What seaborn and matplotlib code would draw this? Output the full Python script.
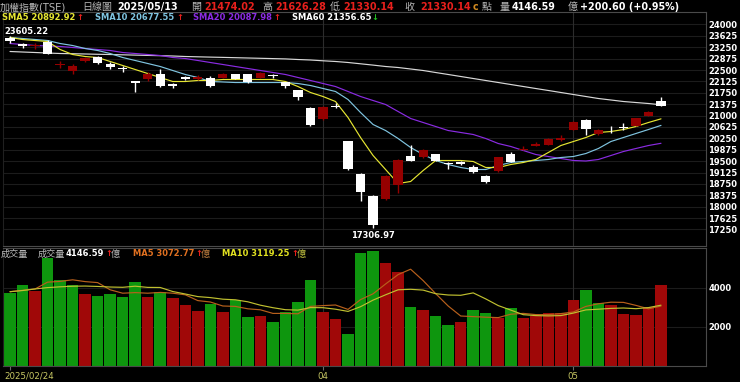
import numpy as np
import pandas as pd
import matplotlib
matplotlib.use("Agg")
import matplotlib.pyplot as plt
import matplotlib.transforms as mtransforms
import seaborn as sns

# ---------------- data ----------------
opens = [23540, 23360, 23280, 23430, 22670, 22462, 22791, 22923, 22706, 22570,
         22133, 22189, 22377, 22030, 22260, 22189, 22245, 22245, 22364, 22354,
         22245, 22321, 22100, 21837, 21257, 20872, 21330, 20157, 19061, 18346,
         18260, 18731, 19686, 19643, 19742, 19440, 19460, 19314, 19004, 19169,
         19752, 19861, 19993, 20038, 20190, 20542, 20839, 20378, 20575, 20610,
         20674, 21003, 21474.02]
highs = [23605.22, 23380, 23400, 23483, 22782, 22706, 22923, 22979, 22772, 22627,
         22133, 22429, 22541, 22080, 22320, 22330, 22288, 22403, 22386, 22386,
         22420, 22386, 22107, 21843, 21283, 21310, 21399, 20180, 19094, 18392,
         19028, 19555, 20048, 19884, 19752, 19466, 19521, 19357, 19028, 19653,
         19800, 20015, 20124, 20246, 20345, 20806, 20895, 20559, 20674, 20740,
         20921, 21168, 21626.28]
lows = [23380, 23210, 23180, 23030, 22584, 22354, 22772, 22700, 22541, 22440,
        21771, 22133, 21958, 21893, 22170, 22166, 21950, 22238, 22205, 22090,
        22238, 22245, 21916, 21530, 20674, 20855, 21234, 19225, 18204, 17306.97,
        18237, 18435, 19505, 19620, 19490, 19258, 19357, 19126, 18797, 19159,
        19466, 19861, 19993, 20032, 20180, 20526, 20345, 20361, 20434, 20520,
        20658, 20987, 21330.14]
closes = [23470, 23280, 23320, 23045, 22710, 22627, 22903, 22716, 22594, 22540,
          22067, 22377, 21968, 21990, 22200, 22278, 21968, 22386, 22212, 22100,
          22410, 22288, 21968, 21606, 20707, 21277, 21298, 19248, 18478, 17404,
          19004, 19531, 19521, 19861, 19498, 19410, 19420, 19136, 18820, 19643,
          19479, 19907, 20071, 20236, 20269, 20796, 20560, 20530, 20545, 20580,
          20905, 21129.54, 21330.14]
prev_close = 23730

volumes = [3744, 4154, 3846, 5538, 4410, 4154, 3692, 3590, 3692, 3538,
           4308, 3538, 3795, 3487, 3128, 2821, 3179, 2769, 3385, 2513,
           2564, 2256, 2769, 3282, 4410, 2769, 2410, 1641, 5795, 5897,
           5282, 4821, 3026, 2872, 2564, 2103, 2256, 2872, 2718, 2462,
           2974, 2462, 2564, 2718, 2718, 3385, 3897, 3231, 3128, 2667,
           2615, 3026, 4146.59]

sma5 = [23572, 23506, 23473, 23440, 23177, 23012, 22946, 22913, 22782, 22650,
        22518, 22386, 22255, 22123, 22123, 22156, 22156, 22189, 22189, 22189,
        22189, 22189, 22123, 21958, 21761, 21629, 21464, 20937, 20279, 19686,
        19225, 18764, 18830, 19192, 19521, 19521, 19521, 19489, 19291, 19291,
        19390, 19456, 19555, 19785, 20015, 20147, 20279, 20444, 20476, 20542,
        20641, 20773, 20892.92]
sma10 = [23572, 23539, 23506, 23473, 23374, 23308, 23210, 23144, 23045, 22913,
         22815, 22716, 22617, 22485, 22354, 22255, 22123, 22107, 22090, 22090,
         22090, 22090, 22090, 22057, 21991, 21893, 21794, 21530, 21102, 20707,
         20509, 20246, 19950, 19719, 19522, 19390, 19291, 19225, 19225, 19357,
         19456, 19489, 19522, 19555, 19620, 19653, 19752, 19917, 20147, 20279,
         20411, 20542, 20677.55]
sma20 = [23374, 23341, 23308, 23292, 23276, 23243, 23210, 23177, 23144, 23078,
         23045, 23012, 22979, 22913, 22880, 22815, 22749, 22683, 22617, 22551,
         22485, 22420, 22354, 22255, 22156, 22057, 21958, 21794, 21629, 21497,
         21366, 21135, 20905, 20773, 20641, 20509, 20444, 20378, 20246, 20081,
         19983, 19851, 19719, 19653, 19588, 19522, 19505, 19555, 19686, 19818,
         19917, 20015, 20087.98]
sma60 = [23111, 23094, 23078, 23061, 23045, 23038, 23029, 23019, 23012, 23002,
         22992, 22982, 22973, 22963, 22946, 22936, 22926, 22917, 22907, 22897,
         22887, 22877, 22867, 22847, 22831, 22805, 22782, 22749, 22706, 22663,
         22617, 22584, 22535, 22485, 22419, 22354, 22288, 22222, 22156, 22090,
         22024, 21958, 21892, 21827, 21761, 21695, 21629, 21563, 21514, 21464,
         21431, 21398, 21356.65]

vol_ma5 = [3810, 3880, 3950, 4300, 4338, 4420, 4328, 4277, 3908, 3733,
           3764, 3733, 3774, 3733, 3651, 3354, 3282, 3077, 3056, 2933,
           2882, 2697, 2697, 2677, 3056, 3097, 3128, 2902, 3405, 3702,
           4205, 4687, 4964, 4380, 3713, 3077, 2564, 2533, 2503, 2482,
           2656, 2698, 2636, 2636, 2687, 2769, 3056, 3190, 3272, 3262,
           3108, 2933, 3072.77]
vol_ma10 = [3810, 3870, 3950, 4020, 4060, 4090, 4100, 4080, 4050, 4036,
            4092, 4031, 4026, 3820, 3692, 3559, 3508, 3426, 3395, 3292,
            3118, 2990, 2887, 2867, 2995, 2990, 2913, 2800, 3041, 3379,
            3651, 3908, 3933, 3892, 3708, 3641, 3626, 3749, 3441, 3098,
            2867, 2631, 2585, 2569, 2585, 2713, 2877, 2913, 2954, 2974,
            2939, 2995, 3119.25]

price_ticks = [17250, 17625, 18000, 18375, 18750, 19125, 19500, 19875, 20250,
               20625, 21000, 21375, 21750, 22125, 22500, 22875, 23250, 23625, 24000]
vol_ticks = [2000, 4000]
x_tick_pos = [0, 25, 45]
x_tick_labels = ["2025/02/24", "04", "05"]
last_date = "2025/05/13"

# ---------------- style ----------------
sns.set_theme(style="dark", rc={
    "figure.facecolor": "black", "axes.facecolor": "black",
    "savefig.facecolor": "black", "axes.edgecolor": "#4a4a4a",
    "grid.color": "#1e1e1e", "text.color": "white",
})
plt.rcParams["font.family"] = ["DejaVu Sans", "Noto Sans CJK TC"]

W, H = 740, 382
fig = plt.figure(figsize=(W / 100, H / 100), dpi=100)


def fx(px):
    return px / W


def fy(py):
    return 1 - py / H


L, R = 3, 706
ax = fig.add_axes([fx(L), fy(246), fx(R) - fx(L), fy(12) - fy(246)])
axv = fig.add_axes([fx(L), fy(366), fx(R) - fx(L), fy(248) - fy(366)], sharex=ax)

df = pd.DataFrame({"x": np.arange(len(closes)), "open": opens, "high": highs,
                   "low": lows, "close": closes, "vol": volumes,
                   "sma5": sma5, "sma10": sma10, "sma20": sma20, "sma60": sma60,
                   "vma5": vol_ma5, "vma10": vol_ma10})
x = df["x"].values
o = df["open"].values
c = df["close"].values

RED = "#950000"
WHITE = "#ffffff"
candle_col = [RED if cc > oo else WHITE for oo, cc in zip(o, c)]
prevs = np.concatenate([[prev_close], c[:-1]])
VRED, VGREEN = "#a00808", "#0e960e"
vol_col = [VRED if cc >= pp else VGREEN for cc, pp in zip(c, prevs)]

# grid lines
for t in price_ticks:
    ax.axhline(t, color="#1c1c1c", lw=0.8, zorder=0)
for t in vol_ticks:
    axv.axhline(t, color="#1c1c1c", lw=0.8, zorder=0)
for xp in x_tick_pos[1:]:
    ax.axvline(xp, color="#2c2c2c", lw=0.8, zorder=0)
    axv.axvline(xp, color="#2c2c2c", lw=0.8, zorder=0)

# MA lines
for col, colr in [("sma60", "#d8d8d8"), ("sma20", "#8a2be2"),
                  ("sma10", "#7fc4e0"), ("sma5", "#e6e632")]:
    sns.lineplot(data=df, x="x", y=col, ax=ax, color=colr, linewidth=0.85,
                 legend=False, zorder=2)

# candles
ax.vlines(x, df["low"], df["high"], colors=candle_col, lw=1.0, zorder=3)
body_h = np.maximum(np.abs(c - o), 30)
ax.bar(x, body_h, bottom=np.minimum(o, c), width=0.74, color=candle_col,
       linewidth=0, zorder=4)

# volume
axv.bar(x, df["vol"], width=0.92, color=vol_col, linewidth=0, zorder=2)
sns.lineplot(data=df, x="x", y="vma5", ax=axv, color="#b8601c", linewidth=0.85,
             legend=False, zorder=3)
sns.lineplot(data=df, x="x", y="vma10", ax=axv, color="#c0c030", linewidth=0.85,
             legend=False, zorder=3)

# axes limits
px_per = 12.52
ax.set_xlim(-(10 - L) / px_per, len(x) - 1 + (R - 661) / px_per)
ax.set_ylim(24000 - (246 - 24.5) * 32.93, 24000 + (24.5 - 12) * 32.93)
axv.set_ylim(0, (366 - 248) * 51.28)

for a in (ax, axv):
    a.yaxis.tick_right()
    a.set_xlabel("")
    a.set_ylabel("")
    a.grid(False)
    for s in a.spines.values():
        s.set_color("#4a4a4a")
        s.set_linewidth(0.8)
    a.spines["left"].set_color("#202020")

ax.set_yticks(price_ticks)
ax.set_yticklabels([str(t) for t in price_ticks])
ax.tick_params(axis="y", length=0, pad=1.5, labelsize=6, labelcolor="white")
ax.tick_params(axis="x", length=0, labelbottom=False)
axv.set_yticks(vol_ticks)
axv.set_yticklabels([str(t) for t in vol_ticks])
axv.tick_params(axis="y", length=0, pad=1.5, labelsize=6, labelcolor="white")
axv.set_xticks(x_tick_pos)
axv.set_xticklabels(x_tick_labels)
axv.tick_params(axis="x", length=3, width=0.8, color="#6a6a6a", pad=1,
                labelsize=6.2, labelcolor="#c8c864", bottom=True)
for lbl in ax.get_yticklabels() + axv.get_yticklabels():
    lbl.set_fontweight("bold")
first = axv.get_xticklabels()[0]
first.set_horizontalalignment("left")
first.set_transform(first.get_transform() +
                    mtransforms.ScaledTranslation(-6 / 100, 0, fig.dpi_scale_trans))

# high / low annotations
ih = int(np.argmax(df["high"]))
il = int(np.argmin(df["low"]))
ax.annotate(f"{df['high'][ih]:.2f}", (ih, df["high"][ih]), xytext=(-6, 5),
            textcoords="offset pixels", ha="left", va="center", fontsize=6,
            fontweight="bold", color="white", zorder=6)
ax.annotate(f"{df['low'][il]:.2f}", (il, df["low"][il]), xytext=(0, -3),
            textcoords="offset pixels", ha="center", va="top", fontsize=6,
            fontweight="bold", color="white", zorder=6)


def put(px, py, s, color, size=6.9, bold=True):
    fig.text(fx(px), fy(py), s, color=color, fontsize=size,
             fontweight="bold" if bold else "normal", ha="left", va="center")


GRAY = "#b8b8b8"
HRED = "#e8201c"
CJ = 7.2
# header row
put(0, 7, "加權指數(TSE)", GRAY, CJ, False)
put(82, 7, "日線圖", GRAY, CJ, False)
put(117, 7, last_date, "white")
put(191, 7, "開", GRAY, CJ, False)
put(204, 7, f"{opens[-1]:.2f}", HRED)
put(262, 7, "高", GRAY, CJ, False)
put(275, 7, f"{highs[-1]:.2f}", HRED)
put(330, 7, "低", GRAY, CJ, False)
put(343, 7, f"{lows[-1]:.2f}", HRED)
put(404, 7, "收", GRAY, CJ, False)
put(420, 7, f"{closes[-1]:.2f}", HRED)
put(473, 7, "c", "#d08a20")
put(482, 7, "點", GRAY, CJ, False)
put(499, 7, "量", GRAY, CJ, False)
put(512, 7, f"{volumes[-1]:.2f}", "white")
put(568, 7, "億", GRAY, CJ, False)
chg = closes[-1] - closes[-2]
put(580, 7, f"+{chg:.2f} (+{chg / closes[-2] * 100:.2f}%)", "white")

# MA legend row
LS = 6.0
put(2, 18, f"SMA5 {sma5[-1]:.2f}", "#e6e632", LS)
put(76, 18, "↑", HRED, LS)
put(95, 18, f"SMA10 {sma10[-1]:.2f}", "#7fc4e0", LS)
put(176, 18, "↑", HRED, LS)
put(193, 18, f"SMA20 {sma20[-1]:.2f}", "#8a2be2", LS)
put(273, 18, "↑", HRED, LS)
put(292, 18, f"SMA60 {sma60[-1]:.2f}", "white", LS)
put(371, 18, "↓", "#22c022", LS)

# volume legend row
put(1, 254, "成交量", GRAY, 6.6, False)
put(38, 254, "成交量", GRAY, 6.6, False)
put(66, 254, f"{volumes[-1]:.2f}", "white", LS)
put(105, 254, "↑", HRED, LS)
put(111, 254, "億", GRAY, 6.6, False)
put(133, 254, f"MA5 {vol_ma5[-1]:.2f}", "#e07020", LS)
put(195, 254, "↑", HRED, LS)
put(201, 254, "億", "#c08040", 6.6, False)
put(222, 254, f"MA10 {vol_ma10[-1]:.2f}", "#e0e020", LS)
put(291, 254, "↑", HRED, LS)
put(297, 254, "億", "#c0c040", 6.6, False)

fig.savefig("out.png", dpi=100, facecolor="black")
